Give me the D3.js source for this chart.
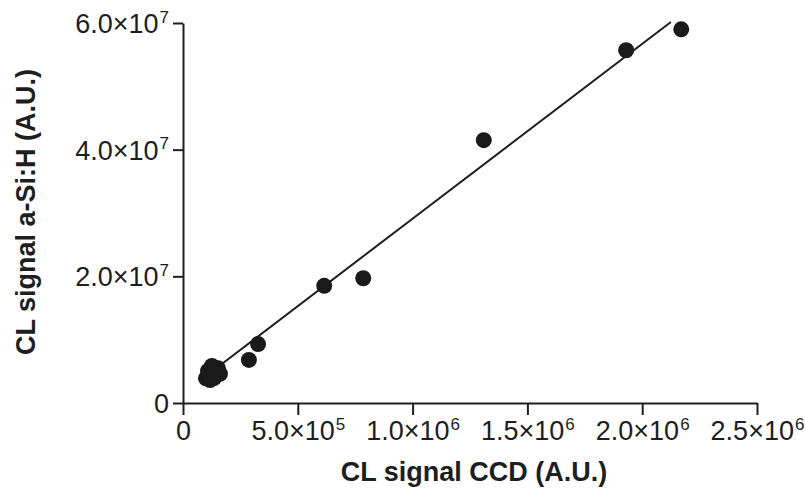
<!DOCTYPE html>
<html>
<head>
<meta charset="utf-8">
<script src="https://cdn.jsdelivr.net/npm/d3@7"></script>
<style>
  body { margin: 0; background: #fff; }
  text { font-family: "Liberation Sans", Arial, sans-serif; fill: #1e1e1e; }
</style>
</head>
<body>
<div id="vis"></div>
<script>
const width = 806
const height = 493

// CL signal CCD (x) vs CL signal a-Si:H (y)
const ccd = [2.17e6, 1.93e6, 1.31e6, 7.85e5, 6.15e5, 3.27e5, 2.87e5,
  1.0e5, 1.09e5, 1.26e5, 1.52e5, 1.61e5, 1.35e5, 1.18e5, 1.44e5]
const asih = [5.9e7, 5.57e7, 4.15e7, 1.97e7, 1.85e7, 9.3e6, 6.8e6,
  3.9e6, 5.05e6, 5.84e6, 5.5e6, 4.6e6, 3.95e6, 3.63e6, 4.7e6]

// linear fit
const fitSlope = 27.6
const fitIntercept = 1.5e6
const fitRange = [1.0e5, 2.125e6]

const xTicks = [0, 5e5, 1e6, 1.5e6, 2e6, 2.5e6]
const yTicks = [0, 2e7, 4e7, 6e7]

var x = d3.scaleLinear().domain([0, 2.5e6]).range([183, 757])
var y = d3.scaleLinear().domain([0, 6e7]).range([403, 23])

var svg = d3.select("#vis")
    .append("svg")
    .attr("width", width)
    .attr("height", height)

// "5.0x10^5" style labels
function sci(sel) {
    sel.each(function (d) {
        var t = d3.select(this).text(null)
        if (d === 0) { t.text("0"); return }
        var e = Math.floor(Math.log10(d))
        var m = d / Math.pow(10, e)
        t.append("tspan").text(m.toFixed(1) + "\u00d710")
        t.append("tspan").attr("font-size", "17px").attr("dx", "1").attr("dy", "-0.6em").text(e)
    })
}

var xAxis = svg.append("g")
    .attr("transform", `translate(0,${y(0)})`)
    .call(d3.axisBottom(x).tickValues(xTicks).tickSize(12).tickSizeOuter(0).tickPadding(8))
xAxis.selectAll(".tick text").attr("dy", null).attr("y", 37).call(sci)

var yAxis = svg.append("g")
    .attr("transform", `translate(${x(0)},0)`)
    .call(d3.axisLeft(y).tickValues(yTicks).tickSize(10).tickSizeOuter(0).tickPadding(4))
yAxis.selectAll(".tick text").attr("dy", "0.35em").call(sci)

svg.selectAll(".domain, .tick line").attr("stroke", "#1e1e1e").attr("stroke-width", 2)
svg.selectAll(".tick text").attr("font-size", "27px").attr("fill", "#1e1e1e")
    .attr("font-family", "Liberation Sans, Arial, sans-serif")

// fit line
svg.append("line")
    .attr("x1", x(fitRange[0])).attr("y1", y(fitSlope * fitRange[0] + fitIntercept))
    .attr("x2", x(fitRange[1])).attr("y2", y(fitSlope * fitRange[1] + fitIntercept))
    .attr("stroke", "#1e1e1e")
    .attr("stroke-width", 2)

svg.selectAll("circle")
    .data(ccd.map((v, i) => [v, asih[i]]))
    .join("circle")
    .attr("cx", d => x(d[0]))
    .attr("cy", d => y(d[1]))
    .attr("r", 8)
    .attr("fill", "#1a1a1a")

svg.append("text")
    .attr("x", 474).attr("y", 481)
    .attr("text-anchor", "middle")
    .attr("font-size", "27px")
    .attr("font-weight", "bold")
    .text("CL signal CCD (A.U.)")

svg.append("text")
    .attr("transform", "translate(35,212) rotate(-90)")
    .attr("text-anchor", "middle")
    .attr("font-size", "27px")
    .attr("font-weight", "bold")
    .text("CL signal a-Si:H (A.U.)")
</script>
</body>
</html>
